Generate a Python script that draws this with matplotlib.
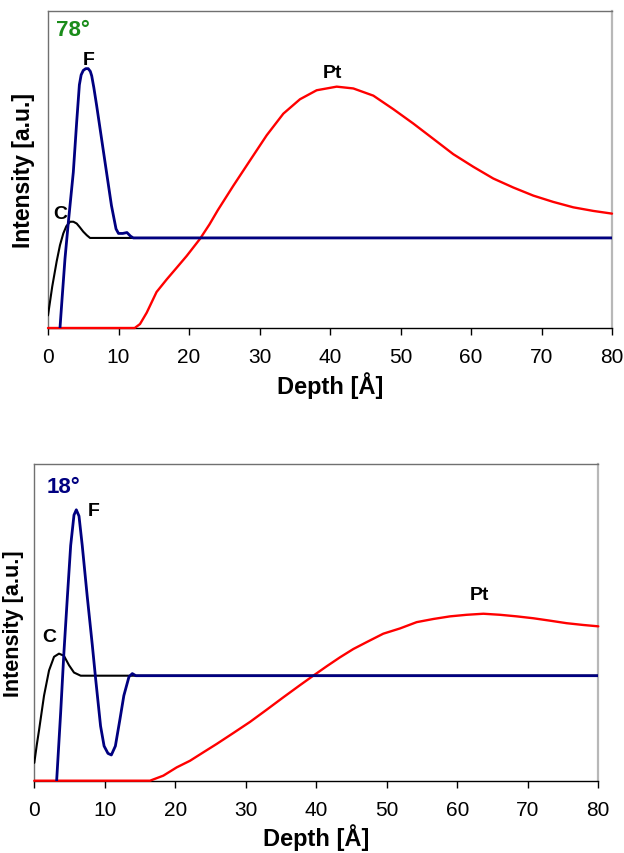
import matplotlib
matplotlib.use("Agg")
import matplotlib.pyplot as plt

plt.rcParams['font.family'] = ['Liberation Sans', 'DejaVu Sans']

# ---- Top panel (78°) ----
top_c_x = [0, 0.6, 1.23, 1.7, 2.17, 2.6, 3.12, 3.6, 4.07, 4.5, 5.0, 5.5, 5.96, 80]
top_c_y = [0.14, 0.46, 0.74, 0.92, 1.05, 1.13, 1.18, 1.18, 1.16, 1.12, 1.07, 1.03, 1.0, 1.0]

top_f_x = [1.7, 2.0, 2.41, 2.88, 3.59, 4.07, 4.45, 4.7, 5.0, 5.35, 5.7, 6.0, 6.2, 6.5, 6.9, 7.6,
           8.3, 9.0, 9.65, 10.0, 10.6, 11.2, 11.7, 12.1, 80]
top_f_y = [0.0, 0.33, 0.77, 1.17, 1.73, 2.29, 2.70, 2.81, 2.86, 2.88, 2.88, 2.85, 2.80, 2.67, 2.47, 2.10,
           1.73, 1.36, 1.10, 1.05, 1.05, 1.06, 1.02, 1.0, 1.0]

top_pt_x = [0, 12.3, 13.05, 14.0, 15.4, 16.84, 18.26, 19.67, 21.56, 22.9, 24.1, 26.29, 28.65, 31.02,
            33.38, 35.74, 38.11, 40.95, 43.31, 46.15, 48.98, 51.82, 54.66, 57.49, 60.33, 63.16,
            66.0, 68.84, 71.67, 74.51, 77.35, 80]
top_pt_y = [0, 0, 0.044, 0.17, 0.40, 0.54, 0.67, 0.80, 0.99, 1.15, 1.31, 1.58, 1.86, 2.14,
            2.38, 2.54, 2.64, 2.68, 2.66, 2.58, 2.43, 2.27, 2.10, 1.93, 1.79, 1.66,
            1.56, 1.47, 1.40, 1.34, 1.30, 1.27]

# ---- Bottom panel (18°) ----
bot_c_x = [0, 0.35, 0.67, 1.38, 2.09, 2.8, 3.5, 4.2, 4.92, 5.63, 6.58, 80]
bot_c_y = [0.17, 0.34, 0.48, 0.81, 1.05, 1.18, 1.21, 1.19, 1.10, 1.03, 1.0, 1.0]

bot_f_x = [3.17, 3.74, 4.2, 4.7, 5.16, 5.63, 5.96, 6.34, 6.8, 7.5, 8.23, 8.7, 9.4, 9.9, 10.45,
           10.93, 11.5, 12.16, 12.7, 13.43, 13.9, 14.4, 80]
bot_f_y = [0.0, 0.65, 1.22, 1.76, 2.24, 2.53, 2.58, 2.52, 2.24, 1.76, 1.29, 0.97, 0.52, 0.33, 0.26,
           0.245, 0.33, 0.59, 0.81, 0.99, 1.02, 1.0, 1.0]

bot_pt_x = [0, 16.41, 18.3, 20.2, 22.09, 23.97, 25.87, 28.23, 30.6, 32.96, 35.32, 37.69, 39.57,
            41.48, 43.36, 45.25, 47.15, 49.5, 51.87, 54.24, 56.6, 58.97, 61.33, 63.7, 66.06,
            68.43, 70.78, 73.15, 75.5, 77.87, 80]
bot_pt_y = [0, 0, 0.048, 0.127, 0.19, 0.27, 0.35, 0.454, 0.56, 0.676, 0.794, 0.91, 1.0,
            1.09, 1.175, 1.254, 1.32, 1.40, 1.45, 1.51, 1.54, 1.565, 1.58, 1.59, 1.58,
            1.565, 1.547, 1.524, 1.50, 1.483, 1.47]

xticks = [0, 10, 20, 30, 40, 50, 60, 70, 80]

fig = plt.figure(figsize=(6.24, 8.54), dpi=100)

BLUE = '#000080'
RED = '#ff0000'
GREEN = '#1a8c1a'


def style(ax, ytop, ylab_x, ylab_size):
    ax.set_xlim(0, 80)
    ax.set_ylim(0, ytop)
    ax.set_xticks(xticks)
    ax.set_yticks([])
    for s in ['left', 'top']:
        ax.spines[s].set_color('#707070')
        ax.spines[s].set_linewidth(1.0)
    ax.spines['right'].set_color('#b8b8b8')
    ax.spines['right'].set_linewidth(1.6)
    ax.spines['bottom'].set_color('black')
    ax.spines['bottom'].set_linewidth(1.0)
    ax.tick_params(axis='x', direction='out', length=5, width=1, labelsize=15, pad=9)
    ax.set_xlabel('Depth [Å]', fontsize=17, fontweight='bold')
    ax.xaxis.set_label_coords(0.5, -0.135)
    ax.set_ylabel('Intensity [a.u.]', fontsize=ylab_size, fontweight='bold')
    ax.yaxis.set_label_coords(ylab_x, 0.5)


kw = dict(solid_joinstyle='round', solid_capstyle='round')

# top
ax1 = fig.add_axes([48 / 624, 525 / 854, 564 / 624, 317 / 854])
ax1.plot(top_pt_x, top_pt_y, color=RED, lw=1.7, zorder=3, clip_on=False, **kw)
ax1.plot(top_c_x, top_c_y, color='black', lw=1.5, zorder=3, **kw)
ax1.plot(top_f_x, top_f_y, color=BLUE, lw=2.0, zorder=4, **kw)
style(ax1, 3.52, -0.023, 16.5)
ax1.text(1.13, 3.31, '78°', color=GREEN, fontsize=16, fontweight='bold', ha='left', va='center')
ax1.text(5.8, 2.98, 'F', fontsize=14, fontweight='bold', ha='center', va='center')
ax1.text(1.7, 1.27, 'C', fontsize=14, fontweight='bold', ha='center', va='center')
ax1.text(40.4, 2.84, 'Pt', fontsize=14, fontweight='bold', ha='center', va='center')

# bottom
ax2 = fig.add_axes([34.3 / 624, 72.3 / 854, 564 / 624, 316.7 / 854])
ax2.plot(bot_pt_x, bot_pt_y, color=RED, lw=1.7, zorder=3, clip_on=False, **kw)
ax2.plot(bot_c_x, bot_c_y, color='black', lw=1.5, zorder=3, **kw)
ax2.plot(bot_f_x, bot_f_y, color=BLUE, lw=2.0, zorder=4, **kw)
style(ax2, 3.016, -0.0175, 15.5)
ax2.text(1.76, 2.80, '18°', color=BLUE, fontsize=16, fontweight='bold', ha='left', va='center')
ax2.text(8.4, 2.57, 'F', fontsize=14, fontweight='bold', ha='center', va='center')
ax2.text(2.1, 1.37, 'C', fontsize=14, fontweight='bold', ha='center', va='center')
ax2.text(63.1, 1.77, 'Pt', fontsize=14, fontweight='bold', ha='center', va='center')

fig.savefig('out.png', dpi=100)
